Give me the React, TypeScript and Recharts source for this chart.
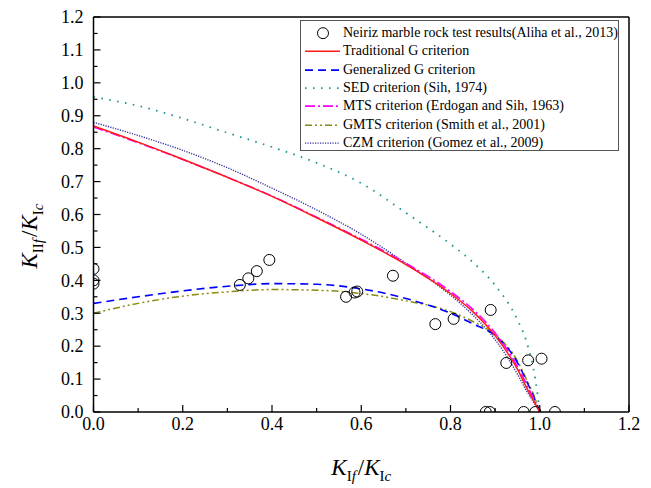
import React from 'react';
import { ComposedChart, Line, Scatter, XAxis, YAxis, Legend, ReferenceLine, Label } from 'recharts';

// x positions shared by all criterion curves (KIf/KIc)
const curveX = [0, 0.1, 0.2, 0.3, 0.4, 0.5, 0.6, 0.7, 0.8, 0.85, 0.9, 0.95, 0.97, 0.99, 1.0];

// KIIf/KIc
const traditionalG = [0.869, 0.82, 0.768, 0.713, 0.655, 0.59, 0.522, 0.448, 0.36, 0.305, 0.232, 0.13, 0.075, 0.025, 0];
const generalizedG = [0.33, 0.35, 0.368, 0.382, 0.39, 0.388, 0.374, 0.345, 0.3, 0.268, 0.232, 0.15, 0.095, 0.035, 0];
const sed = [0.957, 0.93, 0.892, 0.848, 0.805, 0.757, 0.695, 0.605, 0.51, 0.455, 0.385, 0.28, 0.215, 0.1, 0];
const mts = [0.866, 0.818, 0.767, 0.713, 0.656, 0.592, 0.525, 0.452, 0.366, 0.312, 0.24, 0.138, 0.085, 0.03, 0];
const gmts = [0.3, 0.33, 0.352, 0.365, 0.372, 0.37, 0.36, 0.338, 0.305, 0.275, 0.235, 0.155, 0.1, 0.04, 0];
const czm = [0.88, 0.84, 0.795, 0.742, 0.68, 0.614, 0.54, 0.452, 0.355, 0.295, 0.22, 0.115, 0.065, 0.022, 0];

// Neiriz marble test results
const testX = [0, 0, 0, 0.328, 0.347, 0.366, 0.394, 0.566, 0.585, 0.591, 0.671, 0.766, 0.807, 0.89, 0.925, 0.974, 1.004, 0.879, 0.888, 0.964, 0.99, 1.034];
const testY = [0.435, 0.4, 0.39, 0.386, 0.406, 0.428, 0.462, 0.35, 0.363, 0.366, 0.414, 0.267, 0.283, 0.31, 0.149, 0.157, 0.162, 0, 0, 0, 0, 0];

const xTicks = [0, 0.1, 0.2, 0.3, 0.4, 0.5, 0.6, 0.7, 0.8, 0.9, 1.0, 1.1, 1.2];
const yTicks = [0, 0.05, 0.1, 0.15, 0.2, 0.25, 0.3, 0.35, 0.4, 0.45, 0.5, 0.55, 0.6, 0.65, 0.7, 0.75, 0.8, 0.85, 0.9, 0.95, 1.0, 1.05, 1.1, 1.15, 1.2];

const FONT = '"Liberation Serif", "Times New Roman", serif';

const series = [
  { name: 'SED criterion (Sih, 1974)', values: sed, color: '#1f9595', dash: '1.6 6.4', width: 1.8 },
  { name: 'CZM criterion (Gomez et al., 2009)', values: czm, color: '#33339e', dash: '1.2 1.3', width: 1.4 },
  { name: 'GMTS criterion (Smith et al., 2001)', values: gmts, color: '#8a8a10', dash: '7 3 2 3 2 3', width: 1.5 },
  { name: 'Generalized G criterion', values: generalizedG, color: '#0000ff', dash: '8 5', width: 1.6 },
  { name: 'MTS criterion (Erdogan and Sih, 1963)', values: mts, color: '#ff00ff', dash: '10 3 2 3', width: 1.6 },
  { name: 'Traditional G criterion', values: traditionalG, color: '#ff1a1a', dash: undefined, width: 1.5 },
];

const legendOrder = [
  'Traditional G criterion',
  'Generalized G criterion',
  'SED criterion (Sih, 1974)',
  'MTS criterion (Erdogan and Sih, 1963)',
  'GMTS criterion (Smith et al., 2001)',
  'CZM criterion (Gomez et al., 2009)',
];

const testPoints = testX.map((x, i) => ({ x, y: testY[i] }));

const XTick = (props: any) => {
  const { x, y, payload } = props;
  const v = payload.value as number;
  const major = Math.round(v * 10) % 2 === 0;
  return (
    <g>
      <line x1={x} y1={y} x2={x} y2={y - (major ? 7 : 4)} stroke="#000" strokeWidth={1.2} />
      {major && (
        <text x={x} y={y + 18} textAnchor="middle" fontSize={18} fontFamily={FONT} fill="#000">
          {v.toFixed(1)}
        </text>
      )}
    </g>
  );
};

const YTick = (props: any) => {
  const { x, y, payload } = props;
  const v = payload.value as number;
  const major = Math.round(v * 20) % 2 === 0;
  return (
    <g>
      <line x1={x} y1={y} x2={x + (major ? 7 : 4)} y2={y} stroke="#000" strokeWidth={1.2} />
      {major && (
        <text x={x - 10} y={y} dy="0.35em" textAnchor="end" fontSize={18} fontFamily={FONT} fill="#000">
          {v.toFixed(1)}
        </text>
      )}
    </g>
  );
};

const XLabel = (props: any) => {
  const { viewBox } = props;
  const cx = viewBox.x + viewBox.width / 2;
  return (
    <text x={cx} y={475} textAnchor="middle" fontFamily={FONT} fontSize={23} fill="#000">
      <tspan fontStyle="italic">K</tspan>
      <tspan fontSize={15} dy={6}>I</tspan>
      <tspan fontSize={15} fontStyle="italic">f</tspan>
      <tspan dy={-6} dx={2}>/</tspan>
      <tspan fontStyle="italic">K</tspan>
      <tspan fontSize={15} dy={6}>I</tspan>
      <tspan fontSize={15} fontStyle="italic">c</tspan>
    </text>
  );
};

const YLabel = () => {
  return (
    <text x={37} y={236} transform="rotate(-90 37 236)" textAnchor="middle" fontFamily={FONT} fontSize={23} fill="#000">
      <tspan fontStyle="italic">K</tspan>
      <tspan fontSize={15} dy={6}>II</tspan>
      <tspan fontSize={15} fontStyle="italic">f</tspan>
      <tspan dy={-6} dx={2}>/</tspan>
      <tspan fontStyle="italic">K</tspan>
      <tspan fontSize={15} dy={6}>I</tspan>
      <tspan fontSize={15} fontStyle="italic">c</tspan>
    </text>
  );
};

const LegendBox = () => {
  const rowH = 18.33;
  return (
    <div
      style={{
        width: 319,
        height: 131,
        border: '1px solid #555',
        background: '#fff',
        boxSizing: 'border-box',
        paddingTop: 3,
        fontFamily: FONT,
        fontSize: 14,
        color: '#000',
      }}
    >
      <div style={{ display: 'flex', alignItems: 'center', height: rowH }}>
        <svg width={42} height={rowH} style={{ flex: 'none' }}>
          <circle cx={22} cy={rowH / 2} r={5.5} fill="none" stroke="#000" strokeWidth={1} />
        </svg>
        <span style={{ whiteSpace: 'nowrap' }}>Neiriz marble rock test results(Aliha et al., 2013)</span>
      </div>
      {legendOrder.map((name) => {
        const s = series.find((d) => d.name === name)!;
        return (
          <div key={name} style={{ display: 'flex', alignItems: 'center', height: rowH }}>
            <svg width={42} height={rowH} style={{ flex: 'none' }}>
              <line
                x1={4}
                x2={39}
                y1={rowH / 2}
                y2={rowH / 2}
                stroke={s.color}
                strokeWidth={s.width}
                strokeDasharray={s.dash}
              />
            </svg>
            <span style={{ whiteSpace: 'nowrap' }}>{name}</span>
          </div>
        );
      })}
    </div>
  );
};

export default function App() {
  return (
    <div style={{ position: 'absolute', left: 0, top: 0, width: 651, height: 488, background: '#fff' }}>
      <ComposedChart width={651} height={488} margin={{ top: 17, right: 22, bottom: 46, left: 33.5 }}>
        <XAxis
          type="number"
          dataKey="x"
          domain={[0, 1.2]}
          ticks={xTicks}
          allowDataOverflow
          height={30}
          tickSize={0}
          tickMargin={0}
          tickLine={false}
          tick={<XTick />}
          axisLine={{ stroke: '#000', strokeWidth: 1.5 }}
          interval={0}
        >
          <Label content={<XLabel />} />
        </XAxis>
        <YAxis
          type="number"
          dataKey="y"
          domain={[0, 1.2]}
          ticks={yTicks}
          allowDataOverflow
          width={60}
          tickSize={0}
          tickMargin={0}
          tickLine={false}
          tick={<YTick />}
          axisLine={{ stroke: '#000', strokeWidth: 1.5 }}
          interval={0}
        >
          <Label content={<YLabel />} />
        </YAxis>
        <ReferenceLine y={1.2} stroke="#000" strokeWidth={1.5} />
        <ReferenceLine x={1.2} stroke="#000" strokeWidth={1.5} />
        {series.map((s) => (
          <Line
            key={s.name}
            name={s.name}
            data={curveX.map((x, i) => ({ x, y: s.values[i] }))}
            dataKey="y"
            type="monotone"
            stroke={s.color}
            strokeWidth={s.width}
            strokeDasharray={s.dash}
            dot={false}
            activeDot={false}
            isAnimationActive={false}
          />
        ))}
        <Scatter
          name="Neiriz marble rock test results(Aliha et al., 2013)"
          data={testPoints}
          dataKey="y"
          isAnimationActive={false}
          shape={(p: any) => <circle cx={p.cx} cy={p.cy} r={5.5} fill="none" stroke="#000" strokeWidth={1} />}
        />
        <Legend
          layout="vertical"
          align="center"
          verticalAlign="middle"
          width={319}
          wrapperStyle={{ left: 300, top: 20, width: 319 }}
          content={<LegendBox />}
        />
      </ComposedChart>
    </div>
  );
}
